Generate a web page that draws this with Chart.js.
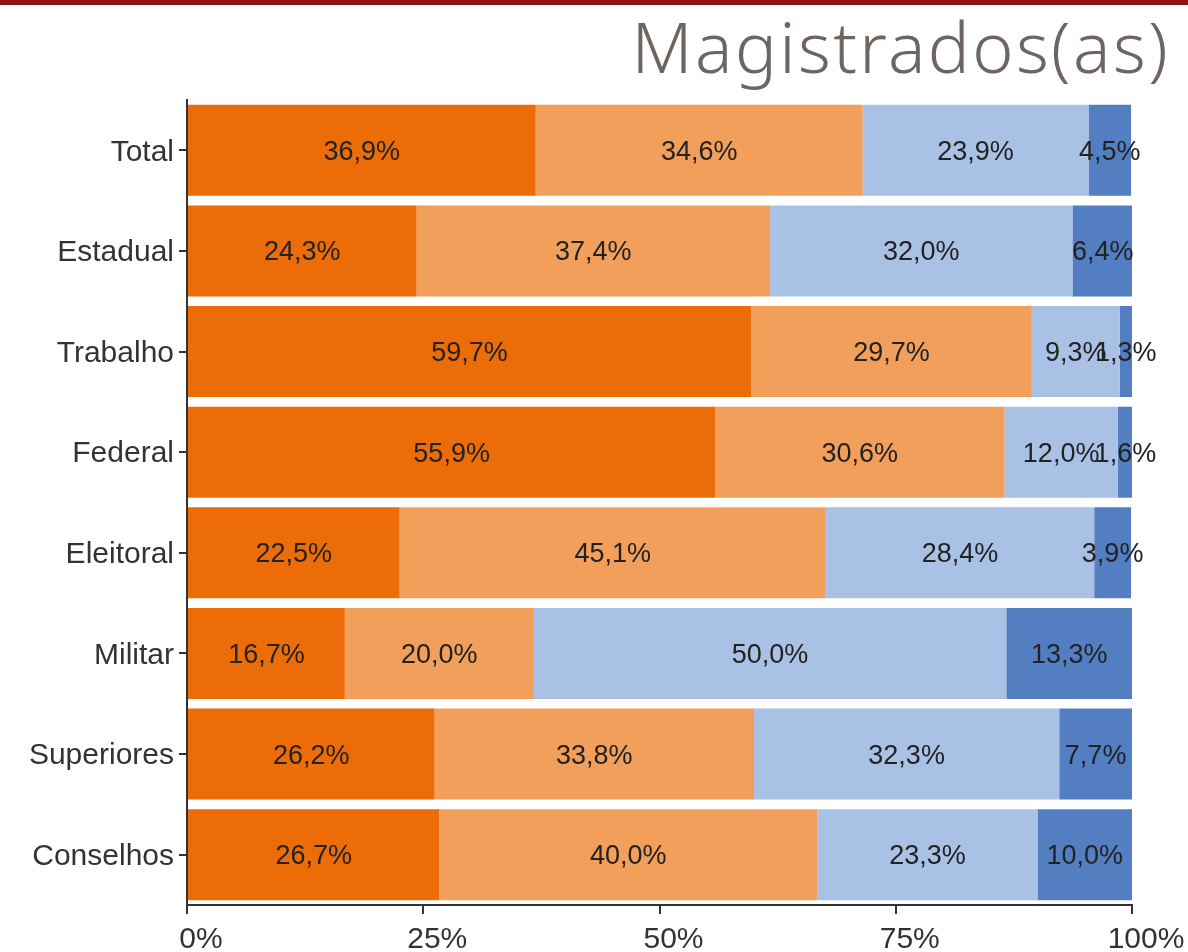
<!DOCTYPE html>
<html lang="pt">
<head>
<meta charset="UTF-8">
<title>Magistrados(as)</title>
<script src="https://cdn.jsdelivr.net/npm/chart.js"></script>
<style>
    body { margin: 0; padding: 0; background: #fff; }
    .topo { position: absolute; left: 0; top: 0; width: 1188px; height: 5px; background: #8b1414; }
    .titulo {
        position: absolute; right: 18px; top: 11px; line-height: 1;
        font-family: 'Noto Sans', 'DejaVu Sans', sans-serif; font-weight: 300;
        font-size: 70px; color: #6e6560; letter-spacing: 2.4px;
    }
    .wrap { position: absolute; left: 0; top: 0; width: 1188px; height: 952px; }
</style>
</head>
<body>
<div class="wrap"><canvas id="grafico"></canvas></div>
<div class="topo"></div>
<div class="titulo">Magistrados(as)</div>
<script>
// dados (%)
const categorias = ['Total', 'Estadual', 'Trabalho', 'Federal', 'Eleitoral', 'Militar', 'Superiores', 'Conselhos'];
const serie1 = [36.9, 24.3, 59.7, 55.9, 22.5, 16.7, 26.2, 26.7];
const serie2 = [34.6, 37.4, 29.7, 30.6, 45.1, 20.0, 33.8, 40.0];
const serie3 = [23.9, 32.0, 9.3, 12.0, 28.4, 50.0, 32.3, 23.3];
const serie4 = [4.5, 6.4, 1.3, 1.6, 3.9, 13.3, 7.7, 10.0];
const cores = ['#ec6c07', '#f29f5b', '#a8c1e5', '#537ec1'];
const fonte = '"Liberation Sans", Arial, Helvetica, sans-serif';

// rótulos centrados em cada segmento
const rotulos = {
    id: 'rotulos',
    afterDatasetsDraw(chart) {
        const ctx = chart.ctx;
        ctx.save();
        ctx.font = '27px ' + fonte;
        ctx.fillStyle = '#222';
        ctx.textAlign = 'center';
        ctx.textBaseline = 'middle';
        chart.data.datasets.forEach((ds, i) => {
            chart.getDatasetMeta(i).data.forEach((bar, j) => {
                const cx = (bar.x + bar.base) / 2;
                ctx.fillText(ds.data[j].toFixed(1).replace('.', ',') + '%', cx, bar.y + 2);
            });
        });
        ctx.restore();
    }
};

new Chart(document.getElementById('grafico'), {
    type: 'bar',
    data: {
        labels: categorias,
        datasets: [serie1, serie2, serie3, serie4].map((d, i) => ({
            data: d,
            backgroundColor: cores[i],
            borderWidth: 0,
            barPercentage: 0.905,
            categoryPercentage: 1.0
        }))
    },
    options: {
        indexAxis: 'y',
        responsive: true,
        maintainAspectRatio: false,
        animation: false,
        layout: { padding: { top: 100, right: 56, left: 0, bottom: 0 } },
        plugins: { legend: { display: false }, tooltip: { enabled: false } },
        scales: {
            x: {
                stacked: true, min: 0, max: 100,
                ticks: { stepSize: 25, callback: v => v + '%', color: '#333', padding: 8, labelOffset: 14,
                         font: { family: fonte, size: 30 } },
                grid: { drawOnChartArea: false, drawTicks: true, tickLength: 9, color: '#333', lineWidth: 2 },
                border: { color: '#333', width: 2 },
                afterFit: s => { s.height = 47; }
            },
            y: {
                stacked: true,
                ticks: { color: '#333', padding: 5, labelOffset: 2,
                         font: { family: fonte, size: 30 } },
                grid: { offset: false, drawOnChartArea: false, drawTicks: true, tickLength: 8, color: '#333', lineWidth: 2 },
                border: { color: '#333', width: 2 },
                afterFit: s => { s.width = 187; }
            }
        }
    },
    plugins: [rotulos]
});
</script>
</body>
</html>
